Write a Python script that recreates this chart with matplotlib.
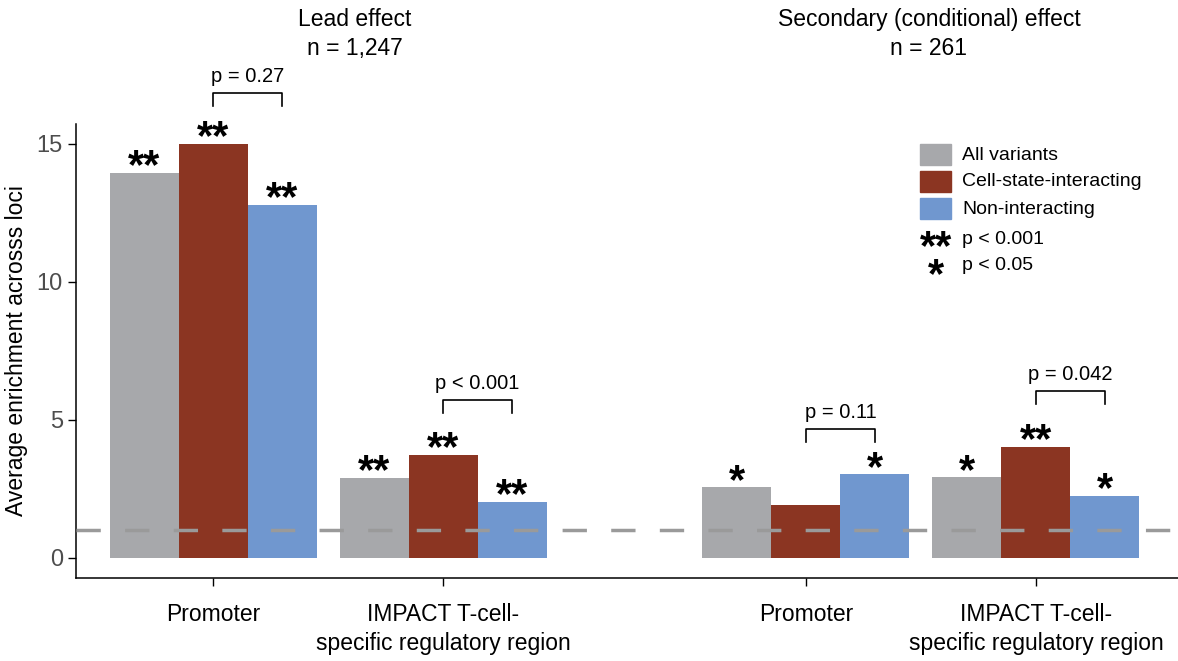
import matplotlib
matplotlib.use("Agg")
import matplotlib.pyplot as plt
from matplotlib.patches import Rectangle
import numpy as np

# --- data ---
panels = ["Lead effect\nn = 1,247", "Secondary (conditional) effect\nn = 261"]
categories = ["Promoter", "IMPACT T-cell-\nspecific regulatory region"]
series = ["All variants", "Cell-state-interacting", "Non-interacting"]
all_variants = [13.95, 2.90, 2.57, 2.93]
cell_state = [15.0, 3.73, 1.92, 4.02]
non_interacting = [12.79, 2.03, 3.04, 2.25]
stars_all = ["**", "**", "*", "*"]
stars_cell = ["**", "**", "", "**"]
stars_non = ["**", "**", "*", "*"]
pair_pvals = ["p = 0.27", "p < 0.001", "p = 0.11", "p = 0.042"]
bracket_tops = [16.85, 5.72, 4.67, 6.05]
star_keys = ["**", "*"]
star_labels = ["p < 0.001", "p < 0.05"]
baseline = 1.0

colors = ["#A7A8AB", "#8B3522", "#7097CF"]
FONT = "Liberation Sans"
plt.rcParams["font.family"] = [FONT, "DejaVu Sans"]

W, H = 1178, 661
fig = plt.figure(figsize=(W / 100, H / 100), dpi=100)
ax = fig.add_axes([76 / W, 1 - 578 / H, 1 - 76 / W, (578 - 124) / H])


def px(x, y):
    return x / W, 1 - y / H


# group layout: two categories per panel, gap between panels
bw = 0.3
panel_gap = 1.578
centers = []
for p in range(len(panels)):
    for c in range(len(categories)):
        centers.append(p * (1 + panel_gap) + c)
centers = np.array(centers)

values = [all_variants, cell_state, non_interacting]
stars = [stars_all, stars_cell, stars_non]
for i, (vals, col) in enumerate(zip(values, colors)):
    xs = centers + (i - 1) * bw
    ax.bar(xs, vals, width=bw, color=col, zorder=2)
    for x, v, s in zip(xs, vals, stars[i]):
        if s:
            ax.annotate(s, xy=(x, v), xytext=(0, -4), textcoords="offset points",
                        ha="center", va="baseline", fontsize=30, fontweight="bold",
                        zorder=4)

# comparison brackets between cell-state and non-interacting
for x, top, lab in zip(centers, bracket_tops, pair_pvals):
    x0, x1 = x, x + bw
    ax.plot([x0, x0, x1, x1], [top - 0.47, top, top, top - 0.47],
            color="black", lw=1.2, clip_on=False, zorder=3)
    ax.annotate(lab, xy=((x0 + x1) / 2, top), xytext=(0, 5), textcoords="offset points",
                ha="center", va="bottom", fontsize=14.5, annotation_clip=False)

ax.axhline(baseline, color="#9A9A9A", lw=2.5, linestyle=(0, (7, 7)), zorder=3)

ax.set_xlim(-0.596, 4.196)
ax.set_ylim(-0.725, 15.72)
ax.set_yticks([0, 5, 10, 15])
ax.set_xticks(centers)
ax.set_xticklabels(categories * len(panels), fontsize=16.5, linespacing=1.35)
ax.tick_params(axis="y", labelsize=17, labelcolor="#4D4D4D", length=6, width=1)
ax.tick_params(axis="x", length=6, width=1, pad=12)
ax.set_ylabel("Average enrichment acrosss loci", fontsize=16.5, labelpad=6)
for s in ["top", "right"]:
    ax.spines[s].set_visible(False)
for s in ["left", "bottom"]:
    ax.spines[s].set_linewidth(1.1)

# panel titles
fig.text(*px(355, 34), panels[0], ha="center", va="center", fontsize=16.5, linespacing=1.3)
fig.text(*px(929, 34), panels[1], ha="center", va="center", fontsize=16.5, linespacing=1.3)

# legend
for i, (lab, col) in enumerate(zip(series, colors)):
    y0 = 144 + i * 27
    fig.patches.append(Rectangle(px(920, y0 + 21), 31 / W, 21 / H,
                                 transform=fig.transFigure, color=col))
    fig.text(*px(962, y0 + 11), lab, ha="left", va="center", fontsize=14)
# star keys as one two-line text so the lines sit 27 px apart
fig.text(*px(936, 262), "\n".join(star_keys), ha="center", va="center",
         fontsize=30, fontweight="bold", linespacing=0.62)
for i, lab in enumerate(star_labels):
    fig.text(*px(962, 240 + i * 26), lab, ha="left", va="center", fontsize=14)

fig.savefig("out.png", dpi=100)
